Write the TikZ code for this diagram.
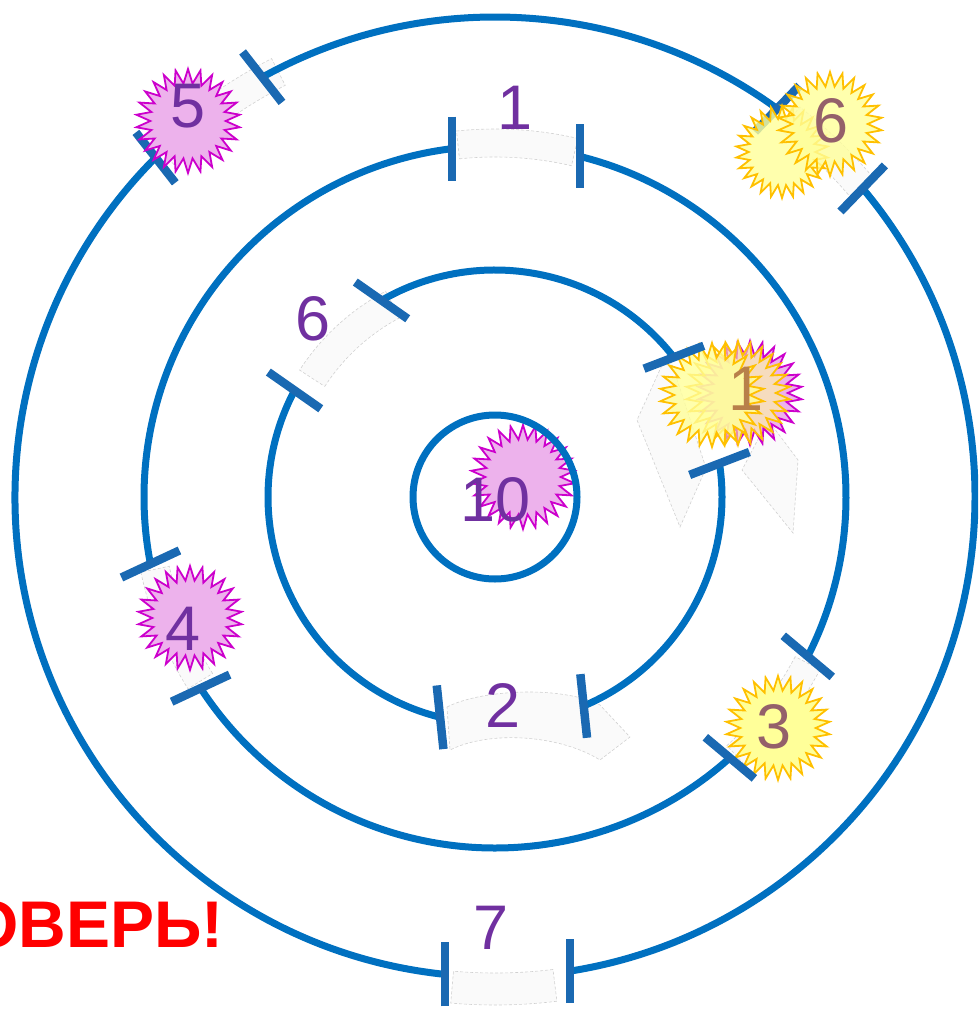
\documentclass[tikz,border=0pt]{standalone}
\usepackage{fontspec}
\setmainfont{Liberation Sans}
\usetikzlibrary{shapes.geometric,calc}
\definecolor{ringblue}{HTML}{0070C0}
\definecolor{tickblue}{HTML}{1A69B2}
\definecolor{numpurple}{HTML}{7030A0}
\definecolor{numbrown}{HTML}{94606A}
\definecolor{numorange}{HTML}{B8804A}
\definecolor{pinkfill}{HTML}{EDB2EC}
\definecolor{pinkedge}{HTML}{CC00CC}
\definecolor{yelfill}{HTML}{FFFF99}
\definecolor{yeledge}{HTML}{FFC000}
\newcommand\doorsector[4]{%
  \path[door] ($(C)+(#1:#3)$) arc[start angle=#1,end angle=#2,radius=#3]
    -- ($(C)+(#2:#4)$) arc[start angle=#2,end angle=#1,radius=#4] -- cycle;}
\begin{document}
\begin{tikzpicture}[x=1pt,y=-1pt,
  ring/.style={draw=ringblue,line width=7pt},
  tickmark/.style={draw=tickblue,line width=8.5pt},
  starbase/.style={star,star points=26,star point ratio=1.38,inner sep=0pt,minimum size=104pt,line width=1.8pt},
  pinkstar/.style={starbase,fill=pinkfill,draw=pinkedge},
  yelstar/.style={starbase,fill=yelfill,draw=yeledge},
  door/.style={fill=gray!5,draw=gray!45,densely dashed,line width=0.6pt,opacity=0.8},
  num/.style={text=numpurple,font=\fontsize{63}{63}\selectfont,inner sep=0pt},
]
\useasboundingbox (0,0) rectangle (978,1014);
\clip (0,0) rectangle (978,1014);
\coordinate (C) at (495,497);

% faint doors
\doorsector{-96}{-77}{340}{368}
\doorsector{83}{95}{476}{508}
\doorsector{-147}{-118}{203}{233}
\doorsector{-134}{-117}{462}{492}
\doorsector{148}{168}{333}{362}
\doorsector{28}{47}{340}{368}
\doorsector{-52}{-40}{465}{495}
\path[door] (447,707) .. controls (480,690) and (560,685) .. (600,705) -- (630,737) -- (600,760)
  .. controls (560,735) and (490,730) .. (450,750) -- cycle;
\path[door] (668,352) -- (637,420) -- (680,527) -- (706,468) -- cycle;
\path[door] (768,420) -- (742,470) -- (793,533) -- (798,460) -- cycle;

% star under inner ring
\node[pinkstar] (s10) at (523,477) {};

% rings
\draw[ring] (C) circle[radius=82];
\draw[ring] ($(C)+(-120:227)$) arc[start angle=-120,end angle=-38,radius=227];
\draw[ring] ($(C)+(-8.5:227)$) arc[start angle=-8.5,end angle=67,radius=227];
\draw[ring] ($(C)+(104:227)$) arc[start angle=104,end angle=208,radius=227];
\draw[ring] ($(C)+(-76:351)$) arc[start angle=-76,end angle=27,radius=351];
\draw[ring] ($(C)+(48:351)$) arc[start angle=48,end angle=147,radius=351];
\draw[ring] ($(C)+(169:351)$) arc[start angle=169,end angle=263,radius=351];
\draw[ring] ($(C)+(-119:480)$) arc[start angle=-119,end angle=-54,radius=480];
\draw[ring] ($(C)+(-40:480)$) arc[start angle=-40,end angle=81,radius=480];
\draw[ring] ($(C)+(96:480)$) arc[start angle=96,end angle=225,radius=480];

% stars under ticks
\node[pinkstar] (s1p) at (750,393) {};
\node[yelstar,fill opacity=0.55] (s1y) at (738,393) {};
\node[yelstar,fill opacity=0.8] (s1z) at (712,395) {};
\node[pinkstar] (s4) at (190,618) {};
\node[yelstar] (s3) at (778,728) {};

% ticks: angle / radius / door middle angle
\foreach \a/\r/\m in {-135/480/-128,-119/480/-128,-54/480/-46,-40/480/-46,81/480/90,96/480/90,
                   -97/351/-90,-76/351/-90,27/351/40,48/351/40,147/351/155,169/351/155,
                   -152/227/-145,-120/227/-145,-38/227/-21,-8.5/227/-21,67/227/84,104/227/84}
  \draw[tickmark] ($(C)+(\a:\r)+(\m:32)$) -- ($(C)+(\a:\r)-(\m:32)$);

% stars over ticks
\node[pinkstar] (s5) at (188,121) {};
\node[yelstar,minimum size=92pt,fill opacity=0.8] (s6a) at (782,152) {};
\node[yelstar,fill opacity=0.8] (s6b) at (830,124) {};

% labels
\node[num] (n5) at (188,106) {5};
\node[num] (n1t) at (515,108) {1};
\node[num,text=numbrown] (n6r) at (831,121) {6};
\node[num] (n6l) at (313,319) {6};
\node[num,text=numorange] (n1r) at (746,389) {1};
\node[num] (n10) at (496,500) {10};
\node[num] (n4) at (183,629) {4};
\node[num,text=numbrown] (n3) at (774,727) {3};
\node[num] (n2) at (503,705) {2};
\node[num] (n7) at (491,928) {7};

\node[anchor=base east,text=red,font=\bfseries\fontsize{66}{66}\selectfont,inner sep=0pt] (warn) at (224,947) {ОВЕРЬ!};
\end{tikzpicture}
\end{document}
